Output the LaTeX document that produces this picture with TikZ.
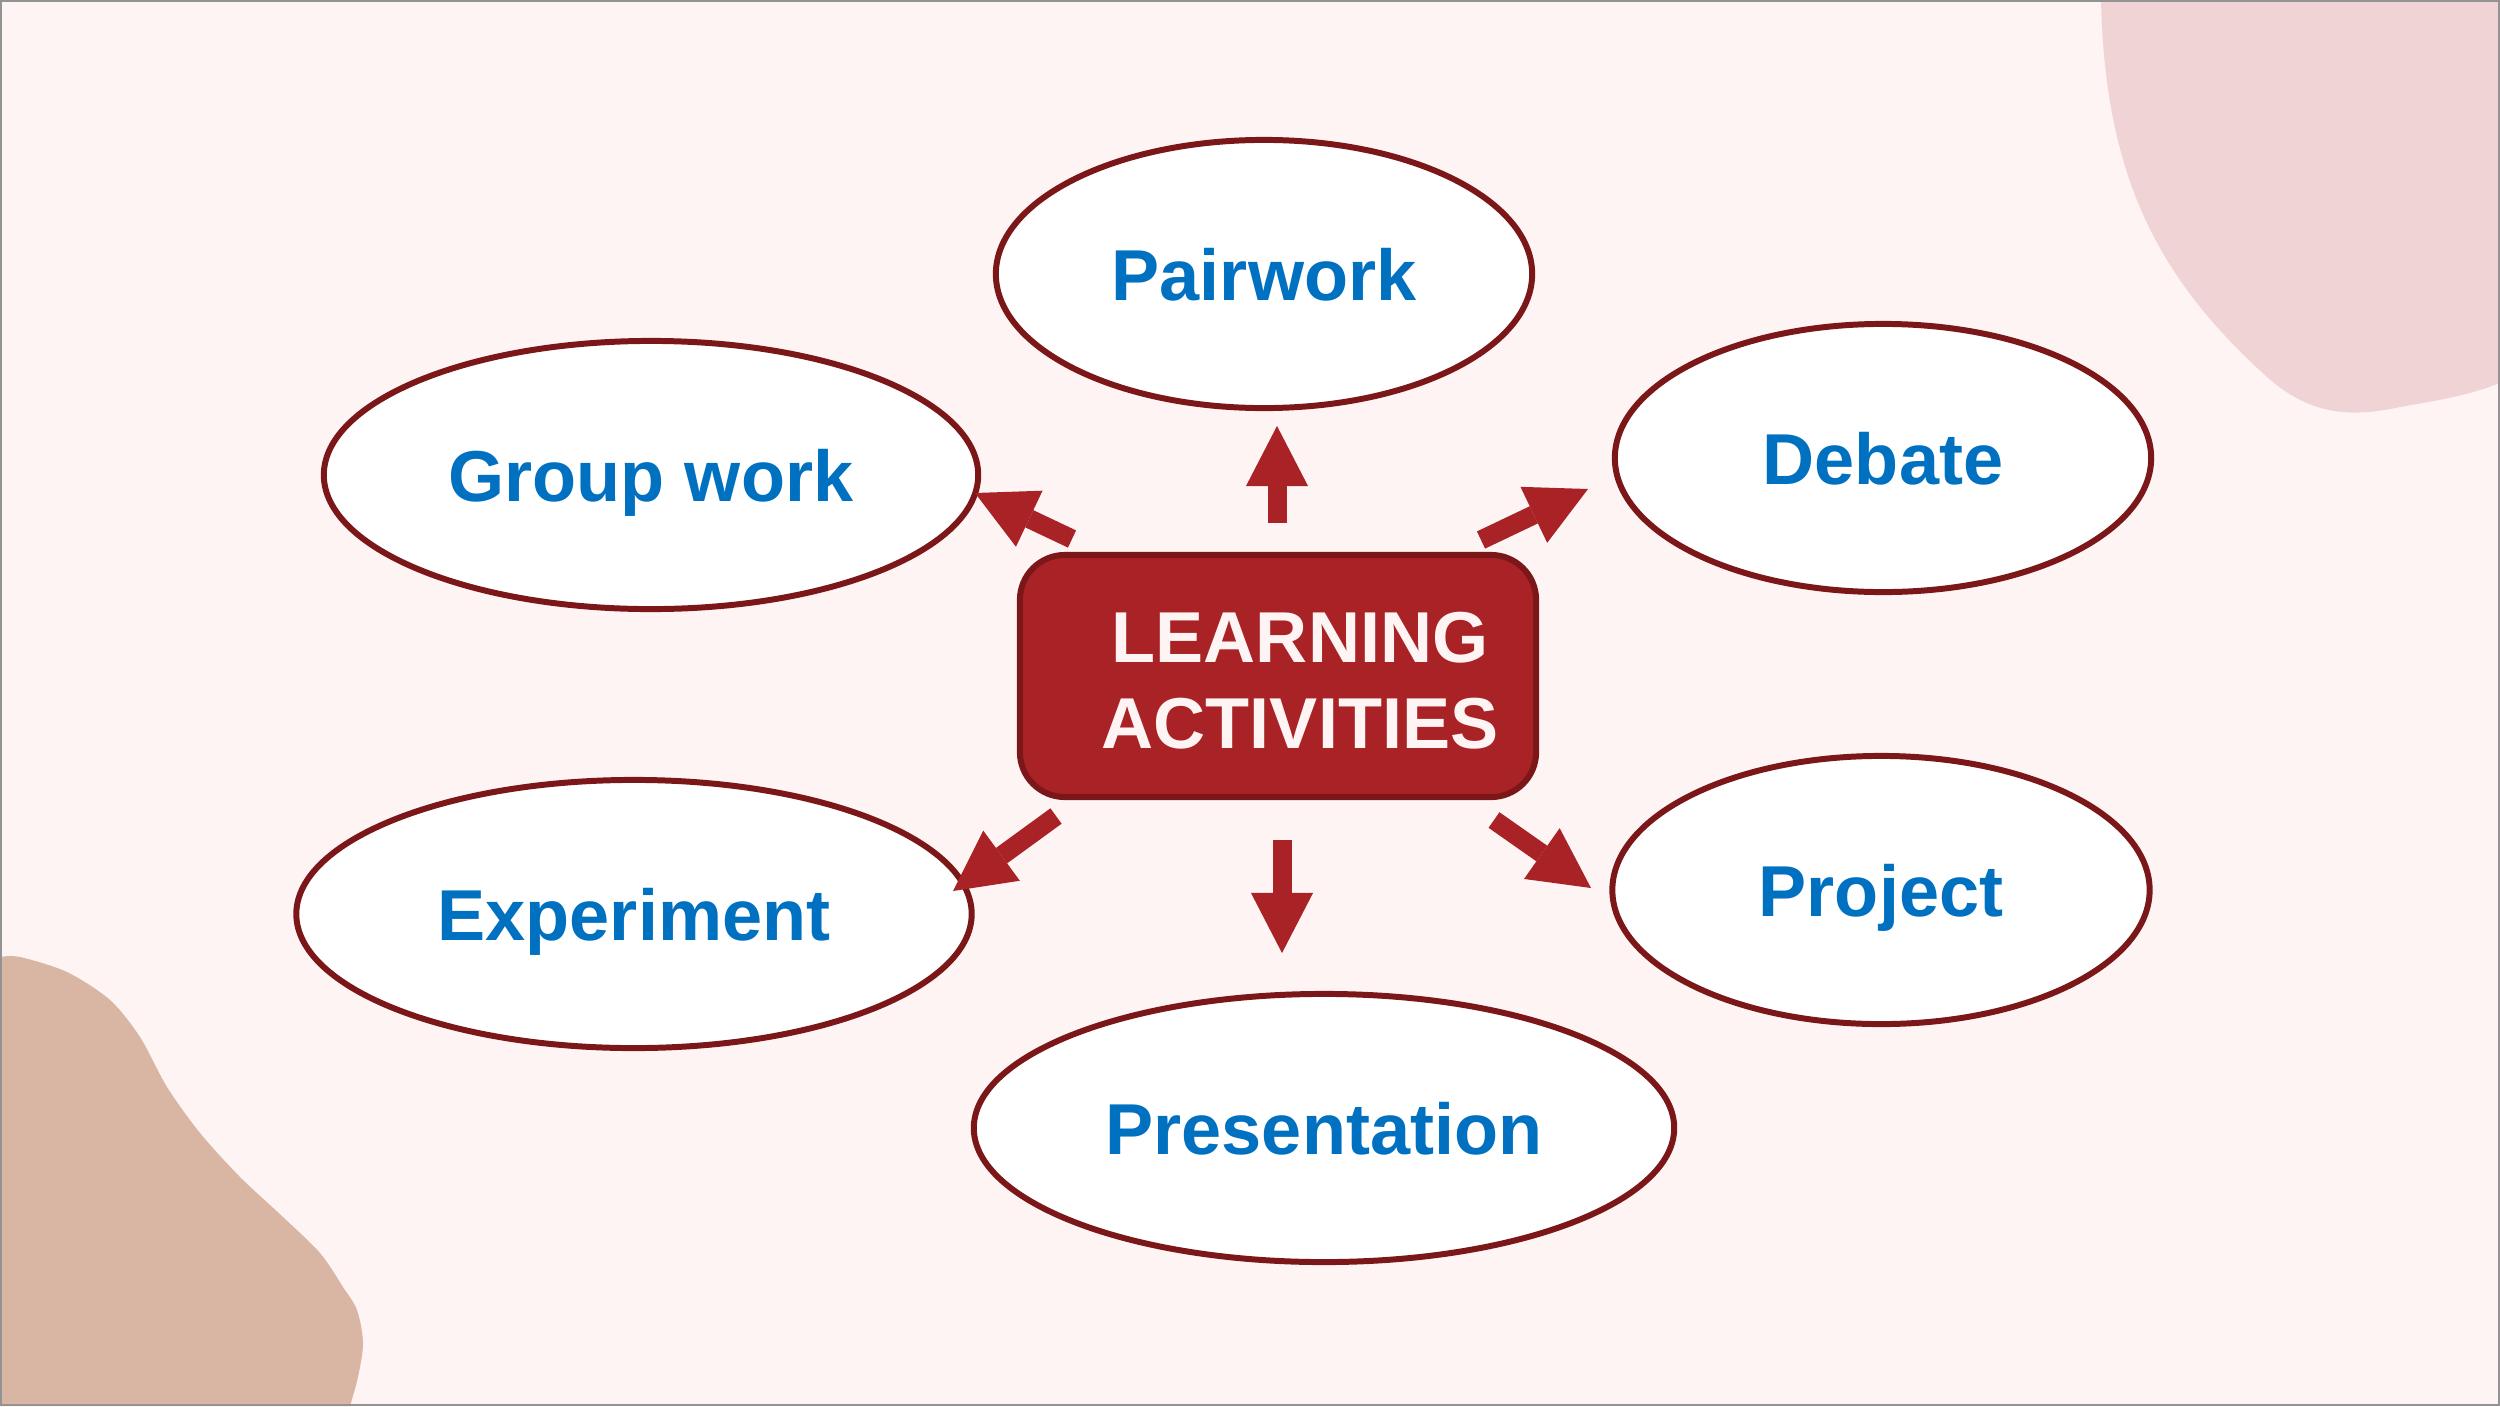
\documentclass[tikz,border=0pt]{standalone}
\usepackage{fontspec}
\setmainfont{Liberation Sans}
\usetikzlibrary{shapes.geometric,arrows.meta}

\definecolor{bgpink}{HTML}{FDF4F3}
\definecolor{blobpink}{HTML}{F0D4D5}
\definecolor{blobtan}{HTML}{D9B6A3}
\definecolor{darkred}{HTML}{7B1718}
\definecolor{boxred}{HTML}{A82226}
\definecolor{actblue}{HTML}{0070C0}

\begin{document}
\begin{tikzpicture}[x=0.01cm,y=-0.01cm,
        act/.style={ellipse,draw=darkred,line width=1.7pt,fill=white,inner sep=0pt,
          text=actblue,font=\fontsize{20.5}{24.5}\selectfont\bfseries,
          text height=0.52cm,text depth=0pt,minimum height=2.68cm},
        spoke/.style={draw=boxred,line width=0.19cm,
          -{Triangle[length=0.6cm,width=0.62cm,line width=0pt]}}]

  \useasboundingbox (0,0) rectangle (2500,1406);

  % background and corner shapes
  \fill[bgpink] (0,0) rectangle (2500,1406);
  \fill[blobpink] (2101,0) .. controls (2105,180) and (2160,280) .. (2267,377)
      .. controls (2310,415) and (2350,418) .. (2400,407)
      .. controls (2440,400) and (2470,395) .. (2500,383) -- (2500,0) -- cycle;
  \fill[blobtan] plot[smooth] coordinates {(0,957) (20,957) (67,972) (110,1000)
      (140,1037) (167,1087) (200,1133) (240,1177) (283,1217) (320,1253) (343,1287)
      (357,1310) (363,1343) (358,1377) (350,1406)} -- (0,1406) -- cycle;
  \draw[gray!85,line width=0.6pt] (1,1) rectangle (2499,1405);

  % centre box
  \node[draw=darkred,line width=1.7pt,fill=boxred,rounded corners=0.45cm,
        minimum width=5.16cm,minimum height=2.42cm] (la) at (1278,676) {};
  \node[text=bgpink,font=\fontsize{20.5}{24.5}\selectfont\bfseries,align=center,
        inner sep=0pt] (latext) at (1300,681) {LEARNING\\ACTIVITIES};

  % activities
  \node[act,minimum width=5.36cm] (pair)   at (1264,274)  {Pairwork};
  \node[act,minimum width=6.54cm] (group)  at (651,475)   {Group work};
  \node[act,minimum width=5.36cm] (debate) at (1883,458)  {Debate};
  \node[act,minimum width=6.75cm] (exp)    at (634,914)   {Experiment};
  \node[act,minimum width=5.37cm] (proj)   at (1881,890)  {Project};
  \node[act,minimum width=7.0cm]  (pres)   at (1324,1128) {Presentation};

  % arrows
  \coordinate (s1) at (1277,523);  \coordinate (t1) at (1277,426);
  \coordinate (s2) at (1072,539);  \coordinate (t2) at (975,493);
  \coordinate (s3) at (1481,540);  \coordinate (t3) at (1588,489);
  \coordinate (s4) at (1056,816);  \coordinate (t4) at (953,891);
  \coordinate (s5) at (1282,840);  \coordinate (t5) at (1282,953);
  \coordinate (s6) at (1494,820);  \coordinate (t6) at (1591,888);
  \foreach \i in {1,...,6}
    \draw[spoke] (s\i) -- (t\i);

\end{tikzpicture}
\end{document}
